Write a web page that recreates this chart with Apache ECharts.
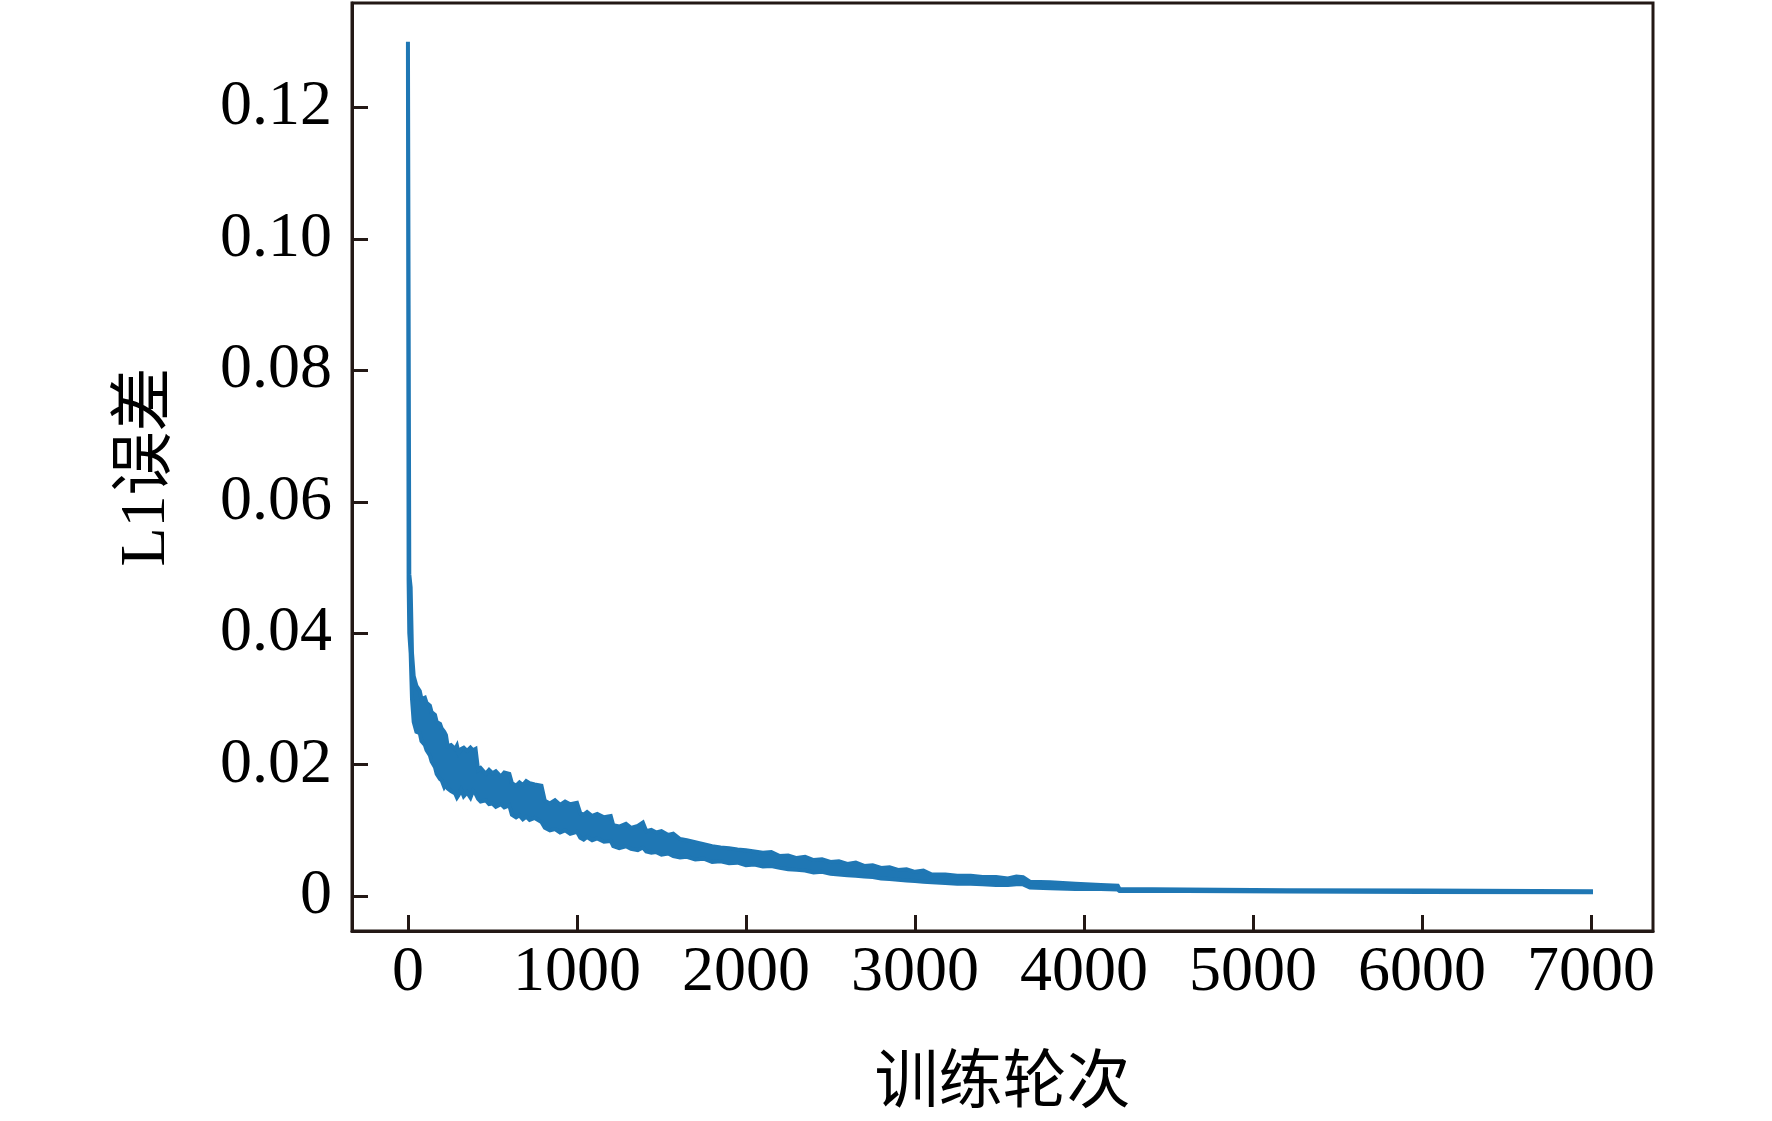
<!DOCTYPE html>
<html>
<head>
<meta charset="utf-8">
<script src="https://cdn.jsdelivr.net/npm/echarts@6/dist/echarts.min.js"></script>
<style>html,body{margin:0;padding:0;background:#fff;}#c{width:1772px;height:1121px;}</style>
</head>
<body>
<div id="c"></div>
<script>
// ---- data (band of the noisy L1 curve: upper / lower edge) ----
const epochs = [
  0, 4, 8, 16, 24, 34, 50, 70, 80, 100,
  110, 130, 140, 160, 170, 190, 200, 215, 225, 235,
  255, 280, 290, 300, 315, 330, 350, 370, 385, 400,
  415, 430, 460, 480, 500, 520, 550, 570, 600, 615,
  640, 660, 680, 700, 720, 750, 790, 810, 840, 870,
  900, 930, 960, 1000, 1020, 1040, 1060, 1090, 1120, 1160,
  1200, 1215, 1250, 1290, 1320, 1360, 1390, 1410, 1440, 1470,
  1500, 1540, 1570, 1610, 1650, 1700, 1750, 1800, 1850, 1900,
  1950, 2000, 2050, 2100, 2150, 2200, 2250, 2300, 2350, 2400,
  2450, 2500, 2550, 2600, 2650, 2700, 2750, 2800, 2850, 2900,
  2950, 3000, 3050, 3100, 3180, 3250, 3330, 3400, 3480, 3550,
  3600, 3640, 3680, 3800, 3950, 4100, 4200, 4210, 4600, 5200,
  6000, 7000];
const upperL1 = [
  0.1300, 0.0900, 0.0490, 0.0470, 0.0370, 0.0335, 0.0320, 0.0312, 0.0300, 0.0302,
  0.0294, 0.0290, 0.0280, 0.0276, 0.0265, 0.0262, 0.0255, 0.0250, 0.0245, 0.0228,
  0.0230, 0.0224, 0.0229, 0.0218, 0.0224, 0.0226, 0.0221, 0.0226, 0.0222, 0.0224,
  0.0192, 0.0195, 0.0186, 0.0192, 0.0187, 0.0190, 0.0182, 0.0188, 0.0186, 0.0172,
  0.0168, 0.0173, 0.0169, 0.0175, 0.0172, 0.0170, 0.0168, 0.0145, 0.0141, 0.0146,
  0.0139, 0.0144, 0.0140, 0.0142, 0.0126, 0.0124, 0.0128, 0.0122, 0.0125, 0.0120,
  0.0122, 0.0108, 0.0106, 0.0110, 0.0104, 0.0107, 0.0112, 0.0099, 0.0101, 0.0097,
  0.0099, 0.0093, 0.0095, 0.0087, 0.0085, 0.0082, 0.0079, 0.0076, 0.0074, 0.0073,
  0.0071, 0.0070, 0.0068, 0.0066, 0.0067, 0.0061, 0.0062, 0.0058, 0.0060, 0.0055,
  0.0056, 0.0052, 0.0053, 0.0049, 0.0051, 0.0046, 0.0047, 0.0043, 0.0044, 0.0040,
  0.0041, 0.0037, 0.0039, 0.0033, 0.0033, 0.0031, 0.0031, 0.0029, 0.0029, 0.0027,
  0.0030, 0.0029, 0.0022, 0.0021, 0.0019, 0.0017, 0.0016, 0.0011, 0.0010, 0.0009,
  0.00085, 0.00075];
const lowerL1 = [
  0.1280, 0.0480, 0.0400, 0.0370, 0.0300, 0.0265, 0.0250, 0.0248, 0.0236, 0.0230,
  0.0222, 0.0214, 0.0205, 0.0196, 0.0186, 0.0178, 0.0176, 0.0166, 0.0170, 0.0164,
  0.0160, 0.0156, 0.0150, 0.0154, 0.0162, 0.0152, 0.0158, 0.0150, 0.0160, 0.0156,
  0.0148, 0.0144, 0.0146, 0.0140, 0.0141, 0.0136, 0.0140, 0.0135, 0.0138, 0.0124,
  0.0120, 0.0123, 0.0117, 0.0121, 0.0116, 0.0119, 0.0113, 0.0104, 0.0100, 0.0102,
  0.0097, 0.0100, 0.0095, 0.0098, 0.0089, 0.0086, 0.0090, 0.0085, 0.0088, 0.0083,
  0.0084, 0.0076, 0.0073, 0.0076, 0.0072, 0.0070, 0.0074, 0.0068, 0.0066, 0.0067,
  0.0063, 0.0065, 0.0061, 0.0059, 0.0060, 0.0056, 0.0057, 0.0052, 0.0053, 0.0050,
  0.0051, 0.0047, 0.0048, 0.0045, 0.0046, 0.0043, 0.0041, 0.0040, 0.0039, 0.0036,
  0.0037, 0.0034, 0.0033, 0.0032, 0.0031, 0.0030, 0.0029, 0.0027, 0.0026, 0.0025,
  0.0024, 0.0023, 0.0022, 0.0021, 0.0020, 0.0019, 0.0019, 0.0018, 0.0017, 0.0017,
  0.0018, 0.0018, 0.0013, 0.0012, 0.0011, 0.0011, 0.0010, 0.0008, 0.0008, 0.0007,
  0.00065, 0.00058];
const xTicks = [0, 1000, 2000, 3000, 4000, 5000, 6000, 7000];
const yTicks = [0, 0.02, 0.04, 0.06, 0.08, 0.10, 0.12];
const yTickLabels = ['0', '0.02', '0.04', '0.06', '0.08', '0.10', '0.12'];
const xName = '训练轮次';
const yName = 'L1误差';

// ---- chart ----
const FONT = "'Liberation Serif', 'Times New Roman', 'Noto Sans CJK SC', serif";
const BLUE = '#1f77b4';
const INK = '#231815';
const chart = echarts.init(document.getElementById('c'), null, {renderer: 'canvas'});
const bandData = epochs.map((e, i) => [e, upperL1[i], lowerL1[i]]);

chart.setOption({
  animation: false,
  backgroundColor: '#ffffff',
  grid: {
    left: 352, right: 119, top: 3, bottom: 190,
    show: true, borderColor: INK, borderWidth: 3,
    containLabel: false, outerBoundsMode: 'none'
  },
  xAxis: {
    type: 'value', min: -331, max: 7367,
    axisLine: {show: true, onZero: false, lineStyle: {color: INK, width: 3}},
    axisTick: {show: true, inside: true, length: 16, customValues: xTicks, lineStyle: {color: INK, width: 3}},
    axisLabel: {
      show: true, customValues: xTicks, margin: 10, color: '#000', fontSize: 64, fontFamily: FONT,
      formatter: function (v) { return String(Math.round(v)); }
    },
    splitLine: {show: false},
    name: xName, nameLocation: 'middle', nameGap: 122,
    nameTextStyle: {color: '#000', fontSize: 64, fontFamily: FONT}
  },
  yAxis: {
    type: 'value', min: -0.0053, max: 0.1359,
    axisLine: {show: true, onZero: false, lineStyle: {color: INK, width: 3}},
    axisTick: {show: true, inside: true, length: 16, customValues: yTicks, lineStyle: {color: INK, width: 3}},
    axisLabel: {
      show: true, customValues: yTicks, margin: 20, color: '#000', fontSize: 64, fontFamily: FONT,
      formatter: function (v) {
        for (let i = 0; i < yTicks.length; i++) { if (Math.abs(yTicks[i] - v) < 1e-9) return yTickLabels[i]; }
        return '';
      }
    },
    splitLine: {show: false},
    name: yName, nameLocation: 'middle', nameGap: 173, nameRotate: 90,
    nameTextStyle: {color: '#000', fontSize: 64, fontFamily: FONT}
  },
  series: [{
    type: 'custom',
    coordinateSystem: 'cartesian2d',
    data: bandData,
    encode: {x: 0, y: [1, 2]},
    renderItem: function (params, api) {
      if (params.dataIndex !== 0) return null;
      const pts = [];
      for (let i = 0; i < epochs.length; i++) pts.push(api.coord([epochs[i], upperL1[i]]));
      for (let i = epochs.length - 1; i >= 0; i--) pts.push(api.coord([epochs[i], lowerL1[i]]));
      return {
        type: 'polygon',
        shape: {points: pts},
        style: {fill: BLUE, stroke: BLUE, lineWidth: 4, lineJoin: 'miter'}
      };
    }
  }]
});
</script>
</body>
</html>
